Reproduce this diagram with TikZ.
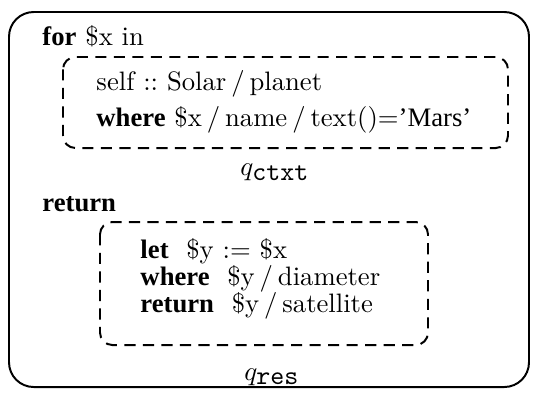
\documentclass[tikz,border=0pt]{standalone}
\usepackage{fontspec}
\newfontfamily\kwfont{Liberation Serif}
\newcommand\kw[1]{{\kwfont\bfseries #1}}
\newcommand\sla{\kern2pt/\kern2pt}
\frenchspacing
\begin{document}
\begin{tikzpicture}[x=0.405pt,y=-0.405pt,
  outer/.style={draw,line width=0.8pt,rounded corners=10pt},
  inner/.style={draw,dash pattern=on 4.5pt off 3pt,line width=0.8pt,rounded corners=5pt},
  txt/.style={anchor=base west,inner sep=0pt,font=\fontsize{10.8}{13}\selectfont},
  lbl/.style={anchor=base,inner sep=0pt,font=\fontsize{10.8}{13}\selectfont}]
\useasboundingbox (0,0) rectangle (534,392);
\draw[outer] (9,12) rectangle (529,387);
\node[txt] (for) at (42,45) {\kw{for} \$x in};
\draw[inner] (63,57) rectangle (508,148);
\node[txt] (l1) at (96,90) {self :: Solar\sla planet};
\node[txt] (l2) at (96,126) {\kw{where} \$x\sla name\sla text()={\kwfont ’Mars’}};
\node[lbl] (q1) at (275,175) {$q_{\texttt{ctxt}}$};
\node[txt] (ret) at (42,211) {\kw{return}};
\draw[inner] (100,222) rectangle (428,345);
\node[txt] (r1) at (140,258) {\kw{let}\ \ \$y := \$x};
\node[txt] (r2) at (140,285) {\kw{where}\ \ \$y\sla diameter};
\node[txt] (r3) at (140,312) {\kw{return}\ \ \$y\sla satellite};
\node[lbl] (q2) at (272,380) {$q_{\texttt{res}}$};
\end{tikzpicture}
\end{document}
